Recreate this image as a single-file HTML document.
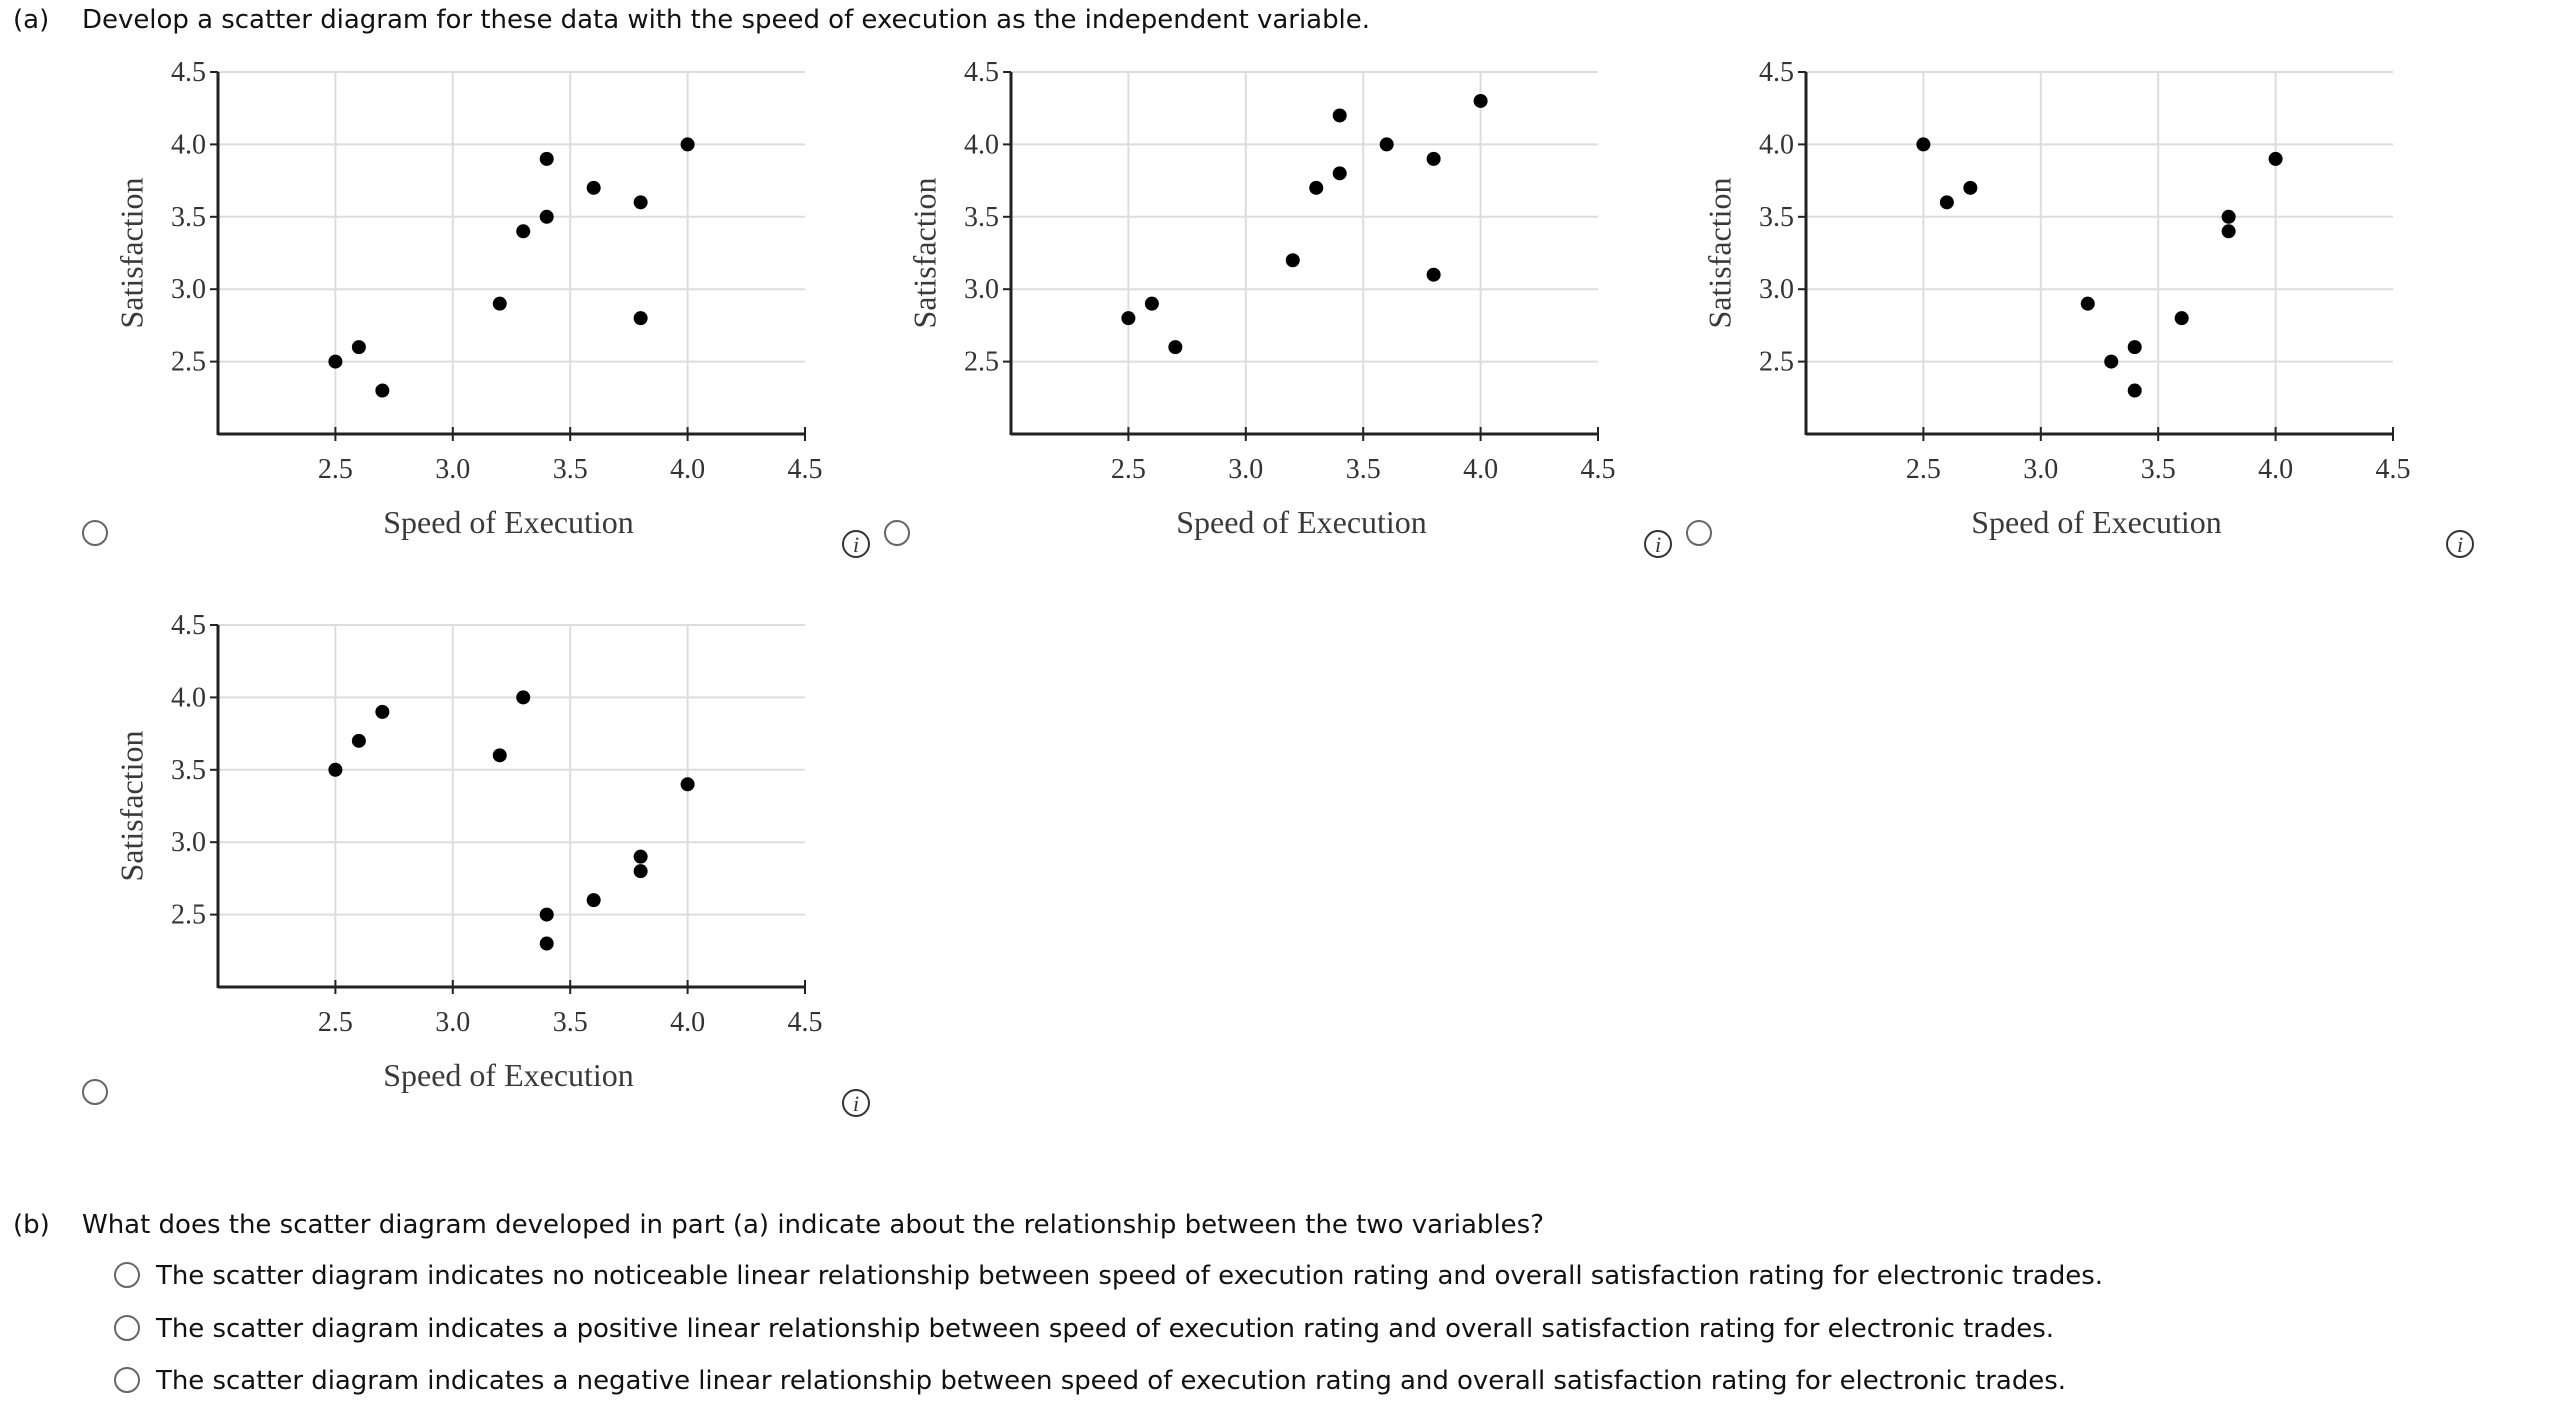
<!DOCTYPE html>
<html><head><meta charset="utf-8"><style>
html,body{margin:0;padding:0;background:#fff;width:2556px;height:1420px;overflow:hidden}
svg{display:block}
.t{font-family:"DejaVu Sans","Liberation Sans",sans-serif;font-size:26px;fill:#111}
.tk{font-family:"Liberation Serif",serif;font-size:28px;fill:#333}
.ax{font-family:"Liberation Serif",serif;font-size:32px;fill:#3a3a3a}
</style></head><body>
<svg id="page" width="2556" height="1420" viewBox="0 0 2556 1420" xmlns="http://www.w3.org/2000/svg">
<text class="t" x="13" y="28">(a)</text>
<text class="t" x="82" y="28" textLength="1288">Develop a scatter diagram for these data with the speed of execution as the independent variable.</text>
<g id="charts"></g>
<text class="t" x="13" y="1233">(b)</text>
<text class="t" x="82" y="1233" textLength="1462">What does the scatter diagram developed in part (a) indicate about the relationship between the two variables?</text>
<g>
<circle cx="127" cy="1275" r="12" fill="#fff" stroke="#666" stroke-width="2"/>
<text class="t" x="156" y="1284" textLength="1947">The scatter diagram indicates no noticeable linear relationship between speed of execution rating and overall satisfaction rating for electronic trades.</text></g>
<g>
<circle cx="127" cy="1328" r="12" fill="#fff" stroke="#666" stroke-width="2"/>
<text class="t" x="156" y="1337" textLength="1898">The scatter diagram indicates a positive linear relationship between speed of execution rating and overall satisfaction rating for electronic trades.</text></g>
<g>
<circle cx="127" cy="1380" r="12" fill="#fff" stroke="#666" stroke-width="2"/>
<text class="t" x="156" y="1389" textLength="1910">The scatter diagram indicates a negative linear relationship between speed of execution rating and overall satisfaction rating for electronic trades.</text></g>
</svg>
<script>
const speedA=[2.5,2.6,2.7,3.2,3.3,3.4,3.4,3.6,3.8,3.8,4.0];
const satA=[2.5,2.6,2.3,2.9,3.4,3.5,3.9,3.7,3.6,2.8,4.0];
const speedB=[2.5,2.6,2.7,3.2,3.3,3.4,3.4,3.6,3.8,3.8,4.0];
const satB=[2.8,2.9,2.6,3.2,3.7,3.8,4.2,4.0,3.9,3.1,4.3];
const speedC=[2.5,2.6,2.7,3.2,3.3,3.4,3.4,3.6,3.8,3.8,4.0];
const satC=[4.0,3.6,3.7,2.9,2.5,2.6,2.3,2.8,3.5,3.4,3.9];
const speedD=[2.5,2.6,2.7,3.2,3.3,3.4,3.4,3.6,3.8,3.8,4.0];
const satD=[3.5,3.7,3.9,3.6,4.0,2.5,2.3,2.6,2.9,2.8,3.4];
const xTicks=["2.5","3.0","3.5","4.0","4.5"];
const yTicks=["2.5","3.0","3.5","4.0","4.5"];
const NS="http://www.w3.org/2000/svg";
const root=document.getElementById('charts');
function mk(tag,attrs,parent,txt){const e=document.createElementNS(NS,tag);for(const k in attrs)e.setAttribute(k,attrs[k]);if(txt!==undefined)e.textContent=txt;parent.appendChild(e);return e;}
function chart(id,ox,top,xs,ys,radio,info){
  const L=218+ox,R=805+ox,T=top,B=top+362;
  const sx=v=>L+(v-2.0)/2.5*(R-L);
  const sy=v=>B-(v-2.0)/2.5*(B-T);
  const g=mk('g',{},root);
  
  
  xTicks.forEach(t=>{const v=parseFloat(t);
    if(v<4.5){
    const gl=mk('line',{x1:sx(v),x2:sx(v),y1:T,y2:B,stroke:'#ddd','stroke-width':2},g);
    
    }
    mk('line',{x1:sx(v),x2:sx(v),y1:B-7,y2:B+7,stroke:'#222','stroke-width':2},g);
    const lb=mk('text',{class:'tk',x:sx(v),y:B+44,'text-anchor':'middle'},g,t);
    
    
  });
  yTicks.forEach(t=>{const v=parseFloat(t);
    const gl=mk('line',{x1:L,x2:R,y1:sy(v),y2:sy(v),stroke:'#ddd','stroke-width':2},g);
    
    
    mk('line',{x1:L-8,x2:L,y1:sy(v),y2:sy(v),stroke:'#222','stroke-width':2},g);
    const lb=mk('text',{class:'tk',x:L-12,y:sy(v)+9,'text-anchor':'end'},g,t);
    
    
  });
  const ya=mk('line',{x1:L,x2:L,y1:T,y2:B+1,stroke:'#222','stroke-width':3},g);
  
  
  const xa=mk('line',{x1:L,x2:R,y1:B,y2:B,stroke:'#222','stroke-width':3},g);
  
  
  xs.forEach((x,i)=>{
    const c=mk('circle',{cx:sx(x),cy:sy(ys[i]),r:7,fill:'#000'},g);
    
    
  });
  const xt=mk('text',{class:'ax',x:(L+R)/2-3,y:B+99,'text-anchor':'middle'},g,'Speed of Execution');
  
  
  const cy=(T+B)/2;
  const yt=mk('text',{class:'ax',x:135+ox,y:cy,'text-anchor':'middle',transform:'rotate(-90 '+(135+ox)+' '+cy+')','dominant-baseline':'middle'},g,'Satisfaction');
  
  
  const rd=mk('circle',{cx:radio[0],cy:radio[1],r:12,fill:'#fff',stroke:'#666','stroke-width':2},root);
  
  
  const ig=mk('g',{},root);
  
  
  mk('circle',{cx:info[0],cy:info[1],r:13,fill:'#fff',stroke:'#333','stroke-width':2},ig);
  mk('text',{x:info[0],y:info[1]+8,'text-anchor':'middle','font-family':'Liberation Serif, serif','font-style':'italic','font-size':'22px',fill:'#333'},ig,'i');
}
chart('a',0,72,speedA,satA,[95,533],[856,544]);
chart('b',793,72,speedB,satB,[897,533],[1658,544]);
chart('c',1588,72,speedC,satC,[1699,533],[2460,544]);
chart('d',0,625,speedD,satD,[95,1092],[856,1103]);
</script>
</body></html>
